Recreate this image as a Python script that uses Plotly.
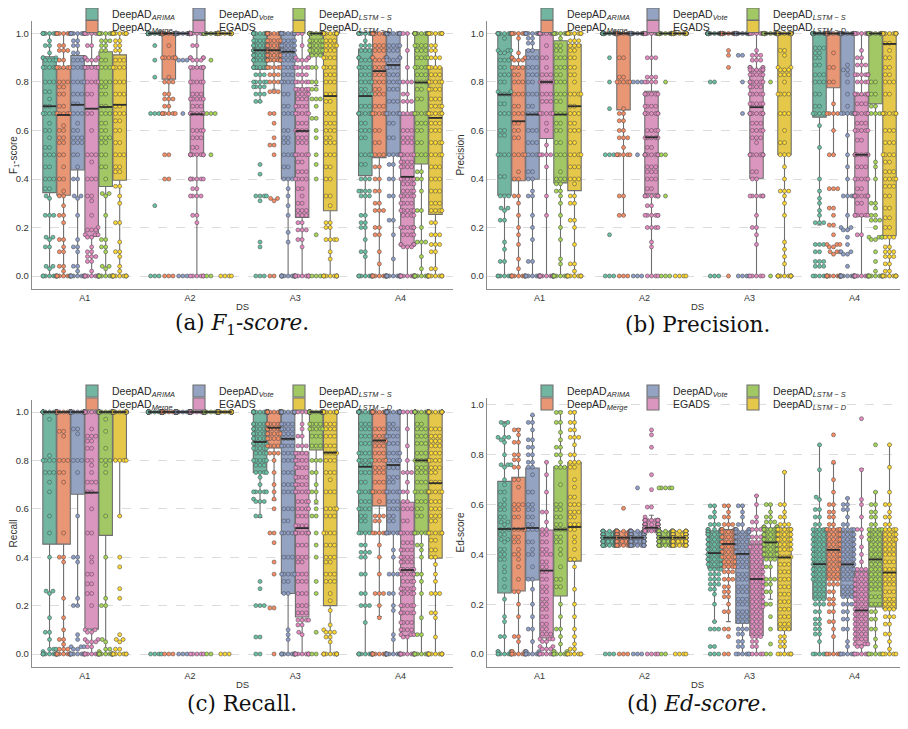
import math
import colorsys
import plotly.graph_objects as go

# ---------------- data ----------------
groups = ["A1", "A2", "A3", "A4"]
method_names = ["DeepAD<sub><i>ARIMA</i></sub>", "DeepAD<sub><i>Merge</i></sub>",
                "DeepAD<sub><i>Vote</i></sub>", "EGADS",
                "DeepAD<sub><i>LSTM − S</i></sub>", "DeepAD<sub><i>LSTM − D</i></sub>"]
metric_titles = ["F<sub>1</sub>-score", "Precision", "Recall", "Ed-score"]
x_title = "DS"
captions = ["(a) <i>F</i><sub>1</sub>-<i>score</i>.", "(b) Precision.",
            "(c) Recall.", "(d) <i>Ed-score</i>."]

# box statistics: rows = methods (ARIMA, Merge, Vote, EGADS, LSTM-S, LSTM-D), cols = A1..A4
f1_q1 = [[0.344, 1.0, 0.852, 0.414], [0.333, 0.812, 0.885, 0.488], [0.437, 1.0, 0.40, 0.498],
         [0.163, 0.50, 0.241, 0.122], [0.369, 1.0, 0.914, 0.462], [0.395, 1.0, 0.269, 0.254]]
f1_med = [[0.70, 1.0, 0.931, 0.742], [0.664, 1.0, 0.931, 0.845], [0.706, 1.0, 0.925, 0.87],
          [0.69, 0.667, 0.598, 0.409], [0.697, 1.0, 1.0, 0.798], [0.706, 1.0, 0.742, 0.652]]
f1_q3 = [[0.904, 1.0, 1.0, 0.936], [0.856, 1.0, 1.0, 1.0], [0.909, 1.0, 1.0, 1.0],
         [0.868, 0.863, 0.774, 0.664], [0.925, 1.0, 1.0, 1.0], [0.912, 1.0, 1.0, 0.859]]
f1_lo = [[0, 1.0, 0.719, 0], [0, 0.667, 0.77, 0], [0, 1.0, 0, 0],
         [0, 0, 0, 0], [0, 1.0, 0.785, 0], [0, 1.0, 0, 0]]
f1_hi = [[1, 1, 1, 1]] * 6

pr_q1 = [[0.333, 1, 1, 0.655], [0.393, 0.685, 1, 0.776], [0.399, 1, 1, 0.666],
         [0.567, 0.338, 0.403, 0.246], [0.384, 1, 1, 0.71], [0.352, 1, 0.5, 0.166]]
pr_med = [[0.748, 1, 1, 1], [0.638, 1, 1, 1], [0.666, 1, 1, 1],
          [0.80, 0.572, 0.696, 0.5], [0.666, 1, 1, 1], [0.70, 1, 1, 0.957]]
pr_q3 = [[1, 1, 1, 1], [0.865, 1, 1, 1], [0.933, 1, 1, 1],
         [1.0, 0.762, 0.851, 0.746], [0.97, 1, 1, 1], [0.955, 1, 1, 1]]
pr_lo = [[0, 1, 1, 0.21], [0, 0.25, 1, 0.5], [0, 1, 1, 0.19],
         [0, 0, 0, 0], [0, 1, 1, 0.276], [0, 1, 0, 0]]
pr_hi = [[1, 1, 1, 1]] * 6

re_q1 = [[0.454, 1, 0.75, 0.5], [0.454, 1, 0.851, 0.612], [0.66, 1, 0.25, 0.5],
         [0.103, 1, 0.153, 0.076], [0.49, 1, 0.843, 0.5], [0.80, 1, 0.2, 0.396]]
re_med = [[1, 1, 0.876, 0.774], [1, 1, 0.935, 0.882], [1, 1, 0.889, 0.781],
          [0.667, 1, 0.52, 0.347], [1, 1, 1.0, 0.80], [1, 1, 0.832, 0.706]]
re_q3 = [[1, 1, 1, 1], [1, 1, 1, 1], [1, 1, 1, 1],
         [1, 1, 0.835, 0.627], [1, 1, 1, 1], [1, 1, 1, 1]]
re_lo = [[0, 1, 0.564, 0], [0, 1, 0.637, 0.155], [0.2, 1, 0, 0],
         [0, 1, 0, 0], [0, 1, 0.62, 0], [0.57, 1, 0, 0]]
re_hi = [[1, 1, 1, 1]] * 6

ed_q1 = [[0.245, 0.436, 0.345, 0.221], [0.253, 0.436, 0.35, 0.301], [0.297, 0.436, 0.124, 0.233],
         [0.064, 0.494, 0.074, 0.035], [0.233, 0.436, 0.388, 0.189], [0.373, 0.436, 0.096, 0.182]]
ed_med = [[0.502, 0.467, 0.405, 0.361], [0.503, 0.467, 0.442, 0.418], [0.506, 0.467, 0.402, 0.36],
          [0.335, 0.507, 0.301, 0.175], [0.50, 0.467, 0.448, 0.38], [0.51, 0.467, 0.388, 0.327]]
ed_q3 = [[0.693, 0.493, 0.495, 0.503], [0.71, 0.493, 0.50, 0.503], [0.747, 0.493, 0.49, 0.491],
         [0.498, 0.537, 0.442, 0.333], [0.752, 0.493, 0.506, 0.503], [0.77, 0.493, 0.506, 0.503]]
ed_lo = [[0, 0.436, 0.13, 0], [0, 0.436, 0.13, 0], [0, 0.436, 0, 0],
         [0, 0.494, 0, 0], [0, 0.436, 0.22, 0], [0, 0.436, 0, 0]]
ed_hi = [[0.932, 0.493, 0.595, 0.839], [0.905, 0.493, 0.595, 0.764], [0.957, 0.493, 0.595, 0.625],
         [0.77, 0.557, 0.636, 0.744], [0.975, 0.493, 0.60, 0.65], [0.975, 0.493, 0.732, 0.84]]

# individual scores per series ("value*count"), one string per data set A1..A4
f1_arima = ["1*8 .97 .95*2 .92 .9*3 .89*4 .86*6 .8*3 .76*2 .73 .7*2 .67*5 .63 .6*2 .57 .53*2 .5*3 .45*2 .4*3 .36*2 .33 .32 .25*3 .16*2 .15 .12*2 .04*2 .03 0*8",
            "1*89 .95 .89 .82 .67*3 .29 0*3",
            "1*20 .97*5 .95*8 .93*10 .91*8 .89*8 .86*7 .83*3 .8*5 .78*4 .75*3 .72*2 .46 .42 .33*4 .31 .14 .12 0*3",
            "1*12 .97 .95*3 .93*3 .9*3 .89*3 .86*4 .83*3 .8*4 .77*2 .75*4 .7*3 .67*8 .63*2 .6*3 .57*2 .5*4 .46*2 .4*3 .35*4 .33*3 .25*2 .22*2 .2*2 .15 .1*2 .08 0*8"]
f1_merge = ["1*7 .95*2 .93*3 .89*2 .86*5 .8*3 .78*2 .75*2 .7*2 .67*5 .62 .6*2 .57*2 .55*2 .5*2 .45 .4*2 .35 .33*2 .29 .25*2 .22 .15*2 .12 .1*2 .04*2 .02 0*9",
            "1*70 .95 .9*6 .82 .8*3 .75*2 .73*3 .7*2 .67*6 .5*2 .4*2 0*3",
            "1*35 .97*5 .95*8 .93*10 .91*8 .89*8 .86*5 .83*3 .8*3 .76*3 .67*2 .63 .57 .54*2 .5 .32*2 .31 0*2",
            "1*25 .95*3 .93*3 .9*4 .89*3 .86*4 .83*3 .8*3 .77*2 .75*3 .7*3 .67*6 .6*2 .55*2 .5*3 .45*2 .4*2 .35*2 .3*2 .27*3 .2*2 .17*2 .1 .05 0*10"]
f1_vote = ["1*9 .97*2 .95*2 .92*2 .89*3 .86*4 .8*4 .75*3 .71*2 .67*3 .63 .6*2 .57*3 .55*3 .5*2 .45 .4*2 .33*2 .32 .25 .15 .12*2 .1 .04*2 .02 0*9",
           "1*93 .89*3 .67 0*3",
           "1*20 .97*4 .95*5 .93*5 .91*4 .89*4 .86*4 .83*3 .8*4 .75*2 .7*2 .67*3 .6*2 .57*2 .55*2 .5*4 .45*2 .4*3 .36 .33 .29 .25 .18 .14 0*13",
           "1*22 .95*4 .93*3 .9*4 .89*4 .86*4 .83*3 .8*4 .77*3 .72*3 .67*6 .63*2 .57*2 .5*4 .46*2 .4*2 .33*2 .23*2 .17 .07 0*12"]
f1_egads = ["1*6 .95*2 .9*3 .89*3 .86*5 .8*4 .75*2 .67*2 .6 .5*3 .47 .4*3 .33*2 .31 .25 .2 .19*3 .17*3 .16*2 .12 .1*2 .08*3 .06*2 .02 0*10",
            "1*20 .95*2 .9*4 .89*3 .86*6 .8*5 .75*3 .73*5 .7*3 .67*8 .6*4 .57*3 .53*2 .5*8 .4*6 .36*2 .33*4 .25*2 .22 0*6",
            "1*2 .95 .9*3 .89*3 .86*5 .83*3 .8*5 .77*5 .75*4 .73*3 .7*4 .67*5 .63*3 .6*4 .57*3 .55*3 .5*5 .47*2 .43*3 .4*4 .36*2 .33 .3*2 .27*3 .25*3 .22*2 .19*3 .15*2 .12 0*8",
            "1*2 .93 .86 .8*3 .75*2 .72*3 .67*4 .6*3 .57*3 .55*3 .5*6 .47*4 .45*4 .4*5 .38*4 .35*4 .33*5 .3*4 .27*5 .25*4 .2*6 .17*4 .13*5 .12*3 0*10"]
f1_lstms = ["1*8 .97*3 .95*2 .93*2 .89*2 .86*3 .8*3 .78*2 .75*2 .7*2 .67*3 .63*2 .6*2 .57*3 .55*2 .5*2 .45*2 .4 .34*2 .33 .25 .15*2 .12*2 .1 .04*2 .03 0*9",
            "1*93 .89 .67*3 .5 0*2",
            "1*55 .97*5 .95*6 .93*5 .91*3 .86*2 .8*2 .77*2 .73*3 .7 .65*2 .6 .57 .5 .46 .4 .17 0*3",
            "1*25 .95*4 .93*3 .9*4 .86*5 .83*3 .8*4 .77*2 .73*2 .67*6 .63*3 .6*2 .55*2 .5*3 .43*2 .4*2 .35 .27*2 .2 .14*3 .08 .03 0*13"]
f1_lstmd = ["1*9 .97*2 .95*2 .93*2 .89*3 .86*4 .8*3 .75*3 .7*2 .67*3 .64*2 .6*2 .55*2 .5*3 .45*2 .43*2 .37*2 .33 .3 .22*2 .14 .1*2 .08 .04 .02 0*9",
            "1*96 0*4",
            "1*20 .97*3 .95*4 .93*3 .9*4 .86*4 .83*3 .8*3 .75*3 .72*2 .67*3 .63*3 .6*3 .57*2 .55*3 .5*3 .45*2 .4*2 .33*2 .29 .22*2 .2*2 .15*4 .1 .07 0*10",
            "1*8 .95*2 .93*2 .9*3 .86*4 .83*3 .8*5 .77*4 .73*3 .7*4 .67*6 .63*3 .6*3 .55*4 .5*4 .45*3 .4*3 .35*3 .3*3 .27*4 .22*2 .17*3 .13*3 .1*2 .03*2 0*8"]

pr_arima = ["1*12 .98 .93*3 .92*2 .89*3 .86*2 .83*3 .8*2 .76*2 .75*3 .71*2 .67*3 .6*2 .58*2 .5*4 .41*2 .33*3 .28*2 .27 .23*2 .14 .11 .06*2 0*7",
            "1*89 .9 .8 .69 .5*3 .17 0*3",
            "1*95 .8*2 0*3",
            "1*50 .94*3 .92*2 .9*2 .87*2 .83*3 .8*3 .75*2 .7*2 .67*4 .62 .53 .4 .35 .32 .3 .27 .25 .22*3 .13*3 .1*2 .06*3 .04*3 0*5"]
pr_merge = ["1*8 .98 .92 .9*3 .89*3 .86*4 .83*2 .8*3 .75*3 .7*2 .67*3 .63*2 .6*2 .57*2 .5*4 .43 .4*2 .33*2 .3 .25 .2 .17 .13 .07 .03 0*10",
            "1*66 .9*2 .82*2 .8*5 .69 .67*2 .64*2 .6*2 .57*3 .53 .5*6 .33*2 .25*2 0*3",
            "1*96 .93 .91 .86 0",
            "1*55 .92 .86*2 .8*2 .71 .67*4 .6 .5*2 .36*3 .28*2 .25 .21*2 .17 .13*3 .12*2 .1*3 .09 0*14"]
pr_vote = ["1*10 .98*2 .96*2 .93*2 .9*3 .86*3 .83*3 .8*2 .75*3 .7*2 .67*4 .6*3 .55*3 .5*4 .43*2 .4*2 .35 .33*2 .25 .2 .15 .06*2 0*8",
           "1*93 .8*3 .5 0*3",
           "1*92 .91*2 .8 .67 0*4",
           "1*55 .87 .85*2 .83 .8 .75 .7 .67*6 .58 .5 .45 .4 .33*4 .25 .2*2 .19*2 .16 .13 .1*2 .09*2 .04 0*14"]
pr_egads = ["1*18 .95 .9*2 .86 .83*3 .8*5 .75*3 .72*3 .67*5 .63 .6 .54 .5*4 .45 .33 .25 0*14",
            "1*15 .9*3 .82*3 .8*4 .75*6 .7*4 .67*7 .6*4 .57*5 .53*2 .5*10 .45*3 .43*3 .4*3 .36*2 .33*8 .29*2 .25*6 .2*4 .14 .12 0*4",
            "1*8 .93 .91*3 .89*3 .86*5 .85*6 .83*5 .8*6 .78*4 .75*5 .71*5 .67*8 .63*3 .6*4 .57*3 .55 .5*8 .43*2 .4*2 .33*6 .25 .2*2 .17 .13 0*5",
            "1*10 .93 .9*2 .87*3 .83*6 .8*4 .75*8 .71*3 .67*8 .63*3 .6*5 .56*2 .5*8 .45*3 .4*5 .36*2 .33*8 .3*2 .25*6 .17*2 0*9"]
pr_lstms = ["1*12 .98 .95*2 .93*2 .9*3 .86*3 .83*2 .8*3 .75*3 .72*2 .67*3 .63*2 .6*2 .55*2 .5*3 .43 .4*3 .38*2 .35*2 .33 .3 .25 .2 .15 .07 .05 0*9",
            "1*93 .8 .5*2 .33 0*3",
            "1*98 .8 0",
            "1*60 .8*2 .75*2 .7*2 .67*3 .47 .45 .4 .3*2 .28 .25*2 .23*3 .2 .16*4 .15*2 .1 .06 .02 0*9"]
pr_lstmd = ["1*10 .97*3 .95*3 .93*2 .9*2 .86*2 .83*2 .8 .75*4 .7*2 .67*3 .63*2 .6*3 .55*2 .5*4 .45*3 .4*3 .38 .33*2 .3*2 .23*2 .2 .13 .05*2 .02 0*8",
            "1*96 0*4",
            "1*50 .93*2 .91 .86*2 .85*3 .83*3 .8 .75*4 .67*3 .6 .55*2 .5*3 .45 .4 .35*3 .33 .3 .25 .14 .11 .08 .05 0*12",
            "1*15 .96*2 .93 .9*2 .86*2 .83*2 .8*3 .75*2 .67*8 .6*3 .55*3 .5*4 .47*2 .43*3 .4*4 .37*3 .33*2 .28*2 .24*2 .2*2 .16*3 .12*2 .1*3 .08*3 .05*2 .02*2 0*10"]

re_arima = ["1*32 .97 .82 .8*4 .75*3 .71 .67 .57 .5 .4 .26*2 .25 .15 .09*2 .06 .02*3 .01 0*10",
            "1*96 0*4",
            "1*22 .95*6 .93*6 .91*6 .89*6 .87*6 .85*5 .83*4 .8*5 .78*3 .75*4 .73 .7 .67*5 .64 .63*3 .57*2 .3 .27 .2*3 .07*2 0*2",
            "1*30 .95*3 .93*3 .9*3 .87*3 .83*4 .8*5 .78*3 .75*3 .71*2 .67*6 .63*3 .6*4 .57*2 .55*2 .5*4 .45*2 .42*3 .4*2 .33*2 .25*2 .2*3 .13 0*10"]
re_merge = ["1*32 .92*2 .9 .8*3 .75*2 .71 .5 .4*2 .38 .23 .15 .1 .06*2 .04 .02*3 0*12",
            "1*97 0*3",
            "1*55 .95*6 .93*8 .91*6 .89*4 .86*4 .83*3 .8 .75 .7 .67 .64 .6 .5*2 .46 .38 .33 .19*2 0",
            "1*35 .93*3 .9*4 .88*4 .86*3 .83*3 .8*4 .77*3 .75*3 .71*3 .67*6 .63 .57*3 .55*2 .5*5 .45 .4 .33 .25*3 .2 .15 0*12"]
re_vote = ["1*40 .93*2 .91 .8*3 .75 .57 .4*2 .38 .23 .2*2 .08 .06 .03*3 .02*2 0*8",
           "1*97 0*3",
           "1*25 .95*4 .93*4 .91*3 .89*3 .86*4 .83*3 .8*3 .75*3 .7*3 .67*3 .6*3 .55*2 .5*4 .4*3 .33*5 .3*2 .25*2 .1 .08 .06 0*10",
           "1*30 .95*2 .93*3 .9*4 .87*3 .83*4 .8*4 .77*3 .73*3 .71*2 .67*5 .63*3 .6*3 .57*2 .55*2 .5*6 .43 .4 .33*3 .25*2 .2 .18 .08 .06 0*10"]
re_egads = ["1*14 .93 .9*3 .88*2 .85*2 .8*2 .78 .75 .71*3 .67*2 .6 .5*2 .4 .38 .33*2 .29*2 .25*2 .2 .1*2 .09*2 .06*2 .05*3 .03*2 0*8",
            "1*95 0*5",
            "1*3 .95 .93 .9*2 .86*3 .83*4 .8*4 .77*4 .73*4 .7*4 .67*5 .63*4 .6*4 .57*3 .53*4 .5*8 .45*3 .4*3 .38*2 .33*3 .3*3 .25*3 .2*3 .17*3 .14*4 .12*2 .09 .08 0*8",
            "1*3 .93 .86 .8 .75*3 .71 .67*2 .63*2 .6*3 .55*2 .5*5 .46*3 .43*4 .4*4 .38*4 .35*5 .33*6 .3*4 .27*5 .25*5 .2*5 .17*6 .13*4 .1*4 .08*3 .07*2 0*10"]
re_lstms = ["1*35 .97 .92 .85 .8*3 .78 .75 .57 .4 .23 .2*2 .06 .05 .02*2 .01 0*12",
            "1*98 0*2",
            "1*65 .95*4 .93*5 .9*3 .86*3 .8*3 .75*2 .7 .67*2 .63 .6 .57*2 .5 .45 .4 .3 .25 .09 0*2",
            "1*30 .95*2 .93*3 .9*3 .87*3 .83*3 .8*5 .77*3 .75*3 .71*3 .67*6 .63*3 .6*2 .57*2 .5*6 .45*2 .43 .4 .33*2 .3 .25 .15 .08*2 0*10"]
re_lstmd = ["1*45 .8*4 .57 .4 .36 .27 .23 .08 .06*2 .05 .02*2 0*7",
            "1*97 0*3",
            "1*17 .95*3 .93*3 .9*3 .86*3 .83*4 .8*3 .75*3 .72 .67*3 .6*4 .57*3 .5*4 .45*3 .4*3 .38*2 .33*3 .3*3 .25 .22 .18 .12 .1 .09*3 .07*2 .05 0*10",
            "1*22 .93*3 .9*3 .88*3 .86*3 .83*3 .8*4 .77*3 .75*2 .71*3 .67*6 .63*3 .6*3 .57*3 .55*2 .5*6 .47*2 .43*2 .4*2 .37 .33 .3 .25*3 .17*2 .15 .07 0*10"]

ed_arima = [".93*2 .92 .87*3 .86 .85 .8 .76*3 .75 .7 .68 .65*2 .62 .6*2 .58*2 .55*2 .53*2 .52 .5*3 .48*2 .46*2 .45 .42*2 .4*2 .38*2 .35 .33 .3 .27 .22 .15 .13 .07*2 .01*3 0*8",
            ".493*18 .48*20 .467*22 .452*20 .436*17 0*3",
            ".595*2 .57 .55*2 .52*3 .5*6 .49*8 .48*8 .46*7 .44*7 .42*7 .4*7 .38*6 .36*5 .34*4 .32*3 .3*3 .28*3 .26*2 .24 .2 .13 .1*3 .03*2 0*3",
            ".84 .74 .63 .62 .58*2 .55*2 .52*2 .5*5 .48*4 .46*4 .44*4 .42*4 .4*4 .38*4 .36*4 .34*4 .32*4 .3*4 .28*3 .26*3 .24*3 .22*3 .2*3 .17*2 .14*2 .12*2 .1*2 .08*2 .05 0*5"]
ed_merge = [".9*2 .88 .85*2 .8*2 .78*2 .75*2 .7*2 .67 .6*3 .58*2 .55*2 .5*4 .47*2 .45*2 .42 .4*2 .38 .35 .3 .25*2 .2 .15 .07*2 .05 .01*3 0*8",
            ".585 .493*18 .48*20 .467*22 .452*19 .436*17 0*3",
            ".595*2 .57 .55*2 .52*3 .5*8 .49*8 .47*8 .45*8 .43*7 .41*6 .39*5 .37*4 .35*4 .33*3 .3*3 .27*2 .25*2 .23*2 .2 .17*2 .1*2 .07 0*2",
            ".88 .77 .7 .65 .6*2 .57*2 .55*2 .52*2 .5*6 .48*4 .46*4 .44*4 .42*4 .4*4 .38*4 .36*4 .34*3 .32*3 .3*3 .28*3 .25*2 .22*2 .2*2 .17*2 .13*2 .1 .07 0*6"]
ed_vote = [".96 .93*2 .9 .86*2 .83*2 .8*2 .77*2 .75*2 .72 .65*2 .6*2 .58*2 .55*2 .52*2 .5*3 .45*2 .42 .4*2 .35 .3*2 .26 .2 .15 .1*2 .05 .01*3 0*8",
           ".667 .493*18 .48*20 .467*22 .452*19 .436*17 0*3",
           ".595*2 .57 .55 .52*2 .5*5 .49*6 .47*5 .45*4 .43*4 .41*4 .39*3 .37*3 .35*3 .32*3 .3*3 .27*3 .25*3 .22*3 .2*3 .17*3 .15*3 .13*3 .1*3 .08*2 .05*2 .03*2 0*6",
           ".625 .6*2 .58*2 .55 .52*2 .5*4 .48*4 .46*4 .44*4 .42*4 .4*4 .38*4 .36*4 .34*4 .32*3 .3*3 .27*3 .25*3 .23*3 .2*3 .17*2 .14*2 .1*2 .05 .03 0*6"]
ed_egads = [".77 .72 .65 .57*2 .53 .5*2 .48*2 .45*2 .42*2 .4*3 .37*2 .35*2 .33*2 .3*2 .27*2 .25*2 .22*2 .2*2 .18*2 .15*2 .12*2 .1*2 .08*3 .06*3 .05*2 .03*2 .02*3 0*6",
            ".9 .88 .83 .72 .66 .59*2 .55 .537*15 .52*20 .507*25 .494*24 0*4",
            ".635 .6 .55 .53*2 .5*3 .47*3 .45*3 .43*4 .41*3 .39*3 .37*3 .35*4 .33*4 .31*4 .29*4 .27*4 .25*4 .23*4 .21*4 .19*4 .17*3 .15*3 .13*3 .11*3 .09*3 .07*3 .05*2 .03*2 0*4",
            ".945 .74 .62 .6 .55 .5*2 .47 .43 .4 .37 .34*3 .32*3 .3*4 .28*4 .26*4 .24*4 .22*4 .2*4 .18*4 .16*4 .14*4 .12*4 .1*4 .08*4 .06*4 .04*3 .03*2 0*6"]
ed_lstms = [".97*2 .93*2 .89 .86 .83*2 .8*2 .77 .75*3 .68 .6*2 .58*2 .55*2 .52*2 .5*3 .47*2 .45*2 .42 .4 .35 .3*2 .27*2 .2 .15 .1*2 .07 .04 .01*3 0*8",
            ".667*5 .493*17 .48*20 .467*22 .452*17 .436*17 0*2",
            ".6*2 .57 .55*2 .53*3 .51*8 .5*8 .48*8 .46*8 .44*7 .42*6 .4*5 .38*3 .35*2 .3*3 .28*2 .25*2 .2*2 .15 .1 .04 0*2",
            ".84 .65 .6*2 .57*2 .55*2 .52*2 .5*5 .48*4 .46*4 .44*3 .42*3 .4*3 .38*3 .36*3 .34*3 .32*3 .3*3 .28*3 .26*3 .23*3 .2*3 .17*2 .14*2 .1*2 .06 .03 0*5"]
ed_lstmd = [".97*2 .93*2 .9*2 .87*3 .84 .8*2 .77*3 .75*2 .7 .67 .63*2 .6*3 .57*3 .55*2 .52*3 .5*2 .47 .45 .42 .38*2 .35 .26 .2 .15 .1 .07 .04 .02*2 0*6",
            ".493*18 .48*20 .467*22 .452*19 .436*17 0*4",
            ".73 .6*2 .57 .55*2 .52*3 .5*6 .48*5 .46*5 .44*4 .42*4 .39*4 .36*3 .33*3 .3*3 .27*3 .24*3 .21*3 .18*3 .15*3 .12*3 .1*3 .07*2 .05*2 .03*2 0*6",
            ".84 .75 .65 .6*2 .57 .55*2 .52*2 .5*4 .48*4 .46*4 .44*3 .42*3 .4*3 .37*3 .34*3 .32*3 .3*3 .28*3 .25*3 .22*3 .2*3 .18*3 .15*3 .12*2 .08*2 .05 .02 0*5"]

# ---------------- styling / geometry ----------------
W, H = 908, 729
OFF = 8  # the page body margin; positions below are page pixels
set2 = [(102, 194, 165), (252, 141, 98), (141, 160, 203), (231, 138, 195), (166, 216, 84), (255, 217, 47)]


def fx(px):
    return (px - OFF) / W


def fy(py):
    return 1 - (py - OFF) / H


def desat(rgb, f=0.75):
    h, l, s = colorsys.rgb_to_hls(*[c / 255 for c in rgb])
    r, g, b = colorsys.hls_to_rgb(h, l, s * f)
    return "rgb(%d,%d,%d)" % (round(r * 255), round(g * 255), round(b * 255))


box_colors = [desat(c) for c in set2]
pt_colors = ["rgb(%d,%d,%d)" % c for c in set2]

panels = [
    dict(l=32, r=453, t=21, b=289, yr=(-0.0536, 1.0515), leg_x=(72, 179, 279), leg_y=(14, 26.5), ds=307, cap=324),
    dict(l=487, r=907, t=21, b=289, yr=(-0.0536, 1.0515), leg_x=(527, 633, 733), leg_y=(14, 26.5), ds=307, cap=324),
    dict(l=32, r=453, t=400, b=667, yr=(-0.0537, 1.0496), leg_x=(72, 179, 279), leg_y=(391, 404), ds=684, cap=703),
    dict(l=487, r=907, t=398, b=667, yr=(-0.0522, 1.028), leg_x=(527, 633, 733), leg_y=(391, 404), ds=684, cap=703),
]

metric_stats = [
    (f1_q1, f1_med, f1_q3, f1_lo, f1_hi, [f1_arima, f1_merge, f1_vote, f1_egads, f1_lstms, f1_lstmd]),
    (pr_q1, pr_med, pr_q3, pr_lo, pr_hi, [pr_arima, pr_merge, pr_vote, pr_egads, pr_lstms, pr_lstmd]),
    (re_q1, re_med, re_q3, re_lo, re_hi, [re_arima, re_merge, re_vote, re_egads, re_lstms, re_lstmd]),
    (ed_q1, ed_med, ed_q3, ed_lo, ed_hi, [ed_arima, ed_merge, ed_vote, ed_egads, ed_lstms, ed_lstmd]),
]


def parse(s):
    out = []
    for tok in s.split():
        if "*" in tok:
            v, c = tok.split("*")
            out += [float(v)] * int(c)
        else:
            out.append(float(tok))
    return out


def swarm(vals, px_x, px_y, d, lim_units):
    lim = lim_units * px_x
    order = sorted(range(len(vals)), key=lambda i: vals[i])
    placed = []
    out = [0.0] * len(vals)
    for n, i in enumerate(order):
        y = vals[i] * px_y
        near = []
        for (px_, py_) in reversed(placed):
            if y - py_ >= d:
                break
            near.append((px_, py_))
        cands = [0.0]
        for (px_, py_) in near:
            dx = math.sqrt(max(d * d - (y - py_) ** 2, 0.0))
            cands += [px_ + dx, px_ - dx]
        cands.sort(key=lambda c: (abs(c), c))
        chosen = None
        for c in cands:
            if abs(c) > lim + 0.5:
                break
            if all((c - px_) ** 2 + (y - py_) ** 2 >= d * d - 1e-6 for (px_, py_) in near):
                chosen = c
                break
        if chosen is None:
            chosen = lim if n % 2 else -lim
        chosen = max(-lim, min(lim, chosen))
        placed.append((chosen, y))
        out[i] = chosen / px_x
    return out


n_m = len(method_names)
slot = 0.8 / n_m
box_w = slot * 0.96
font_sans = "Liberation Sans, Arial, sans-serif"

fig = go.Figure()
layout_extra = {}

# boxes (one legend per entry so the 3x2 legend grid can be placed exactly)
for p, (q1, med, q3, lo, hi, pts) in enumerate(metric_stats):
    ax = "" if p == 0 else str(p + 1)
    pan = panels[p]
    for k in range(n_m):
        xs = [g + (k - (n_m - 1) / 2) * slot for g in range(len(groups))]
        idx = p * n_m + k
        leg_id = "legend" if idx == 0 else "legend%d" % (idx + 1)
        fig.add_trace(go.Box(
            x=xs, q1=q1[k], median=med[k], q3=q3[k], lowerfence=lo[k], upperfence=hi[k],
            width=box_w, fillcolor=box_colors[k], line=dict(color="#6f6f6f", width=1.1),
            whiskerwidth=0.35, boxpoints=False, name=method_names[k],
            xaxis="x" + ax, yaxis="y" + ax, legend=leg_id, showlegend=True, hoverinfo="skip"))
        col, row = k // 2, k % 2
        layout_extra[leg_id] = dict(
            x=fx(pan["leg_x"][col]), y=fy(pan["leg_y"][row]), xanchor="left", yanchor="middle",
            bgcolor="rgba(0,0,0,0)", borderwidth=0,
            font=dict(family=font_sans, size=10.5, color="#2a2a2a"), itemwidth=30)

# swarm points
for p, (q1, med, q3, lo, hi, pts) in enumerate(metric_stats):
    ax = "" if p == 0 else str(p + 1)
    pan = panels[p]
    px_x = (pan["r"] - pan["l"]) / 4.0
    px_y = (pan["b"] - pan["t"]) / (pan["yr"][1] - pan["yr"][0])
    for k in range(n_m):
        X, Y = [], []
        for g in range(len(groups)):
            vals = parse(pts[k][g])
            offs = swarm(vals, px_x, px_y, 4.2, slot * 0.46)
            xc = g + (k - (n_m - 1) / 2) * slot
            X += [xc + o for o in offs]
            Y += vals
        fig.add_trace(go.Scatter(
            x=X, y=Y, mode="markers", xaxis="x" + ax, yaxis="y" + ax, showlegend=False, hoverinfo="skip",
            marker=dict(size=4.0, color=pt_colors[k], line=dict(color="#555555", width=0.6))))

# medians on top
for p, (q1, med, q3, lo, hi, pts) in enumerate(metric_stats):
    ax = "" if p == 0 else str(p + 1)
    for k in range(n_m):
        X, Y = [], []
        for g in range(len(groups)):
            xc = g + (k - (n_m - 1) / 2) * slot
            X += [xc - box_w / 2, xc + box_w / 2, None]
            Y += [med[k][g], med[k][g], None]
        fig.add_trace(go.Scatter(x=X, y=Y, mode="lines", xaxis="x" + ax, yaxis="y" + ax,
                                 line=dict(color="#2e2e2e", width=1.8), showlegend=False, hoverinfo="skip"))

# axes
for p, pan in enumerate(panels):
    ax = "" if p == 0 else str(p + 1)
    layout_extra["xaxis" + ax] = dict(
        domain=[fx(pan["l"]), fx(pan["r"])], range=[-0.5, 3.5], anchor="y" + ax,
        tickvals=list(range(len(groups))), ticktext=groups, ticks="", showgrid=False, zeroline=False,
        showline=True, linecolor="#8c8c8c", linewidth=1.4, automargin=False,
        tickfont=dict(family=font_sans, size=9, color="#333"))
    layout_extra["yaxis" + ax] = dict(
        domain=[fy(pan["b"]), fy(pan["t"])], range=list(pan["yr"]), anchor="x" + ax,
        tickvals=[0, 0.2, 0.4, 0.6, 0.8, 1.0], tickformat=".1f", ticks="",
        showgrid=True, gridcolor="#dcdcdc", griddash="dash", gridwidth=0.8, zeroline=False,
        showline=True, linecolor="#8c8c8c", linewidth=1.4, automargin=False,
        tickfont=dict(family=font_sans, size=9.5, color="#333"),
        title=dict(text=metric_titles[p], font=dict(family=font_sans, size=10, color="#333"), standoff=4))

annotations = []
for p, pan in enumerate(panels):
    cx = fx((pan["l"] + pan["r"]) / 2)
    annotations.append(dict(
        text=x_title, x=cx, y=fy(pan["ds"]), xref="paper", yref="paper",
        xanchor="center", yanchor="middle", showarrow=False,
        font=dict(family=font_sans, size=9.5, color="#333")))
    annotations.append(dict(
        text=captions[p], x=cx, y=fy(pan["cap"]),
        xref="paper", yref="paper", xanchor="center", yanchor="middle", showarrow=False,
        font=dict(family="DejaVu Serif, Liberation Serif, serif", size=21.5, color="#111")))

fig.update_layout(
    template="none", width=W, height=H, autosize=False,
    margin=dict(l=0, r=0, t=0, b=0, autoexpand=False), paper_bgcolor="white", plot_bgcolor="white",
    boxmode="overlay", annotations=annotations, **layout_extra)

fig.write_html("out.html")
